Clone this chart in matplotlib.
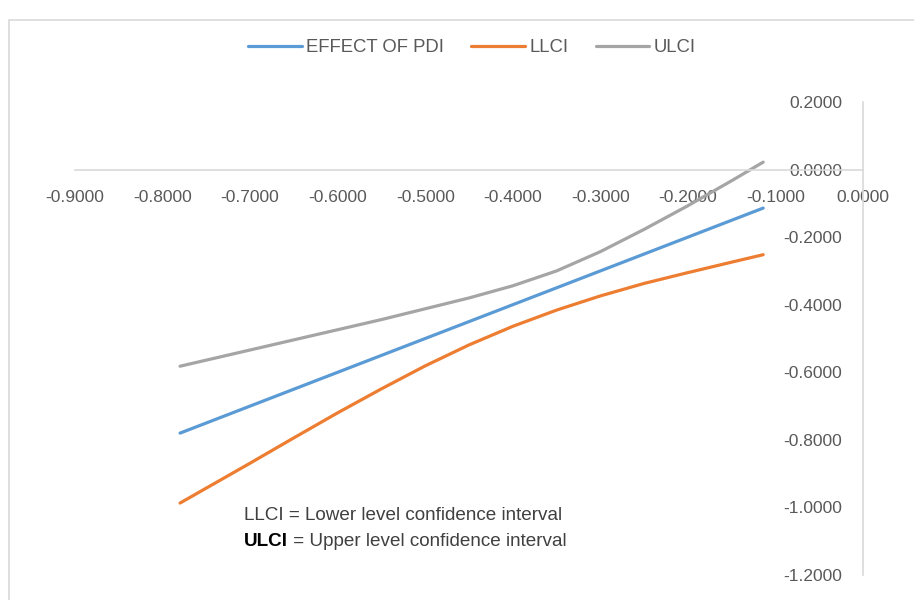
import matplotlib.pyplot as plt
from matplotlib.patches import Rectangle

# moderator values (x) and conditional effect with confidence limits
pdi_x = [-0.78, -0.70, -0.65, -0.60, -0.55, -0.50, -0.45, -0.40, -0.35, -0.30, -0.25, -0.20, -0.15, -0.114]
effect = [-0.78, -0.70, -0.65, -0.60, -0.55, -0.50, -0.45, -0.40, -0.35, -0.30, -0.25, -0.20, -0.15, -0.114]
llci = [-0.987, -0.869, -0.794, -0.720, -0.649, -0.581, -0.519, -0.464, -0.416, -0.374, -0.337, -0.305, -0.274, -0.252]
ulci = [-0.582, -0.534, -0.504, -0.474, -0.444, -0.412, -0.380, -0.344, -0.300, -0.243, -0.177, -0.107, -0.033, 0.022]

x_ticks = [-0.9, -0.8, -0.7, -0.6, -0.5, -0.4, -0.3, -0.2, -0.1, 0.0]
y_ticks = [0.2, 0.0, -0.2, -0.4, -0.6, -0.8, -1.0, -1.2]

plt.rcParams['font.family'] = ['Liberation Sans', 'DejaVu Sans']
txt_col = '#595959'
axis_col = '#D9D9D9'

fig = plt.figure(figsize=(9.14, 6.0), dpi=100)
ax = fig.add_axes([75 / 914, 25 / 600, 788 / 914, 473 / 600])

# outer chart border (cut by the image edge on right/bottom)
fig.patches.append(Rectangle((9 / 914, -0.1), 1.2, 1.0 + 0.1 - 20 / 600, transform=fig.transFigure,
                             fill=False, edgecolor=axis_col, linewidth=1.2))

ax.plot(pdi_x, effect, color='#5B9BD5', lw=2.3, label='EFFECT OF PDI', solid_capstyle='round', solid_joinstyle='round')
ax.plot(pdi_x, llci, color='#ED7D31', lw=2.3, label='LLCI', solid_capstyle='round', solid_joinstyle='round')
ax.plot(pdi_x, ulci, color='#A5A5A5', lw=2.3, label='ULCI', solid_capstyle='round', solid_joinstyle='round')

ax.set_xlim(-0.9, 0.0)
ax.set_ylim(-1.2, 0.2)
ax.spines['left'].set_position(('data', 0))
ax.spines['bottom'].set_position(('data', 0))
ax.spines['top'].set_visible(False)
ax.spines['right'].set_visible(False)
for s in ['left', 'bottom']:
    ax.spines[s].set_color(axis_col)
    ax.spines[s].set_linewidth(1.2)
ax.patch.set_visible(False)

ax.set_xticks(x_ticks)
ax.set_xticklabels(['%.4f' % v for v in x_ticks])
ax.set_yticks(y_ticks)
ax.set_yticklabels(['%.4f' % v for v in y_ticks])
ax.tick_params(axis='x', length=0, pad=15, labelsize=12.5, colors=txt_col)
ax.tick_params(axis='y', length=0, pad=15, labelsize=12.5, colors=txt_col)

fig.legend(loc='center', bbox_to_anchor=(472 / 914, 1 - 48 / 600), ncol=3, frameon=False,
           fontsize=13.3, handlelength=2.9, columnspacing=1.45, handletextpad=0.27,
           labelcolor=txt_col)

t1 = fig.text(244 / 914, 1 - 515 / 600, 'LLCI = Lower level confidence interval',
              fontsize=13.6, color='#404040', va='center')
t2 = fig.text(244 / 914, 1 - 541 / 600, 'ULCI', fontsize=13.6, color='black', va='center',
              fontweight='bold')
ax.annotate(' = Upper level confidence interval', xy=(1, 0), xycoords=t2, va='bottom',
            fontsize=13.6, color='#404040')

fig.savefig('out.png', dpi=100)
